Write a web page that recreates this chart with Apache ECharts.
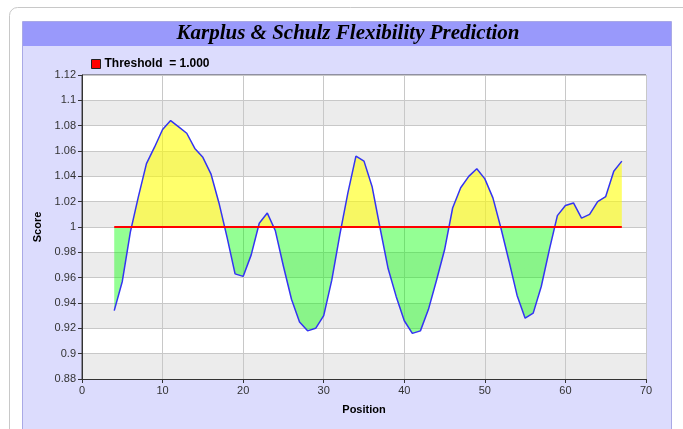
<!DOCTYPE html>
<html>
<head>
<meta charset="utf-8">
<title>Karplus & Schulz Flexibility Prediction</title>
<script src="https://cdn.jsdelivr.net/npm/echarts@6/dist/echarts.min.js"></script>
<style>
  html, body { margin: 0; padding: 0; background: #ffffff; }
  #chart { width: 683px; height: 429px; }
</style>
</head>
<body>
<div id="chart"></div>
<script>
// Residue positions and their Karplus & Schulz flexibility scores
const positions = [4, 5, 6, 7, 8, 9, 10, 11, 12, 13, 14, 15, 16, 17, 18, 19, 20, 21, 22, 23,
  24, 25, 26, 27, 28, 29, 30, 31, 32, 33, 34, 35, 36, 37, 38, 39, 40, 41, 42, 43,
  44, 45, 46, 47, 48, 49, 50, 51, 52, 53, 54, 55, 56, 57, 58, 59, 60, 61, 62, 63,
  64, 65, 66, 67];
const scores = [0.934, 0.957, 0.996, 1.024, 1.050, 1.063, 1.077, 1.084, 1.079, 1.074,
  1.062, 1.055, 1.042, 1.019, 0.992, 0.963, 0.961, 0.978, 1.003, 1.011,
  0.997, 0.969, 0.943, 0.925, 0.918, 0.920, 0.930, 0.958, 0.994, 1.027,
  1.056, 1.052, 1.032, 0.999, 0.967, 0.945, 0.926, 0.916, 0.918, 0.935,
  0.958, 0.982, 1.015, 1.031, 1.040, 1.046, 1.038, 1.023, 0.999, 0.973,
  0.946, 0.928, 0.932, 0.953, 0.982, 1.009, 1.017, 1.019, 1.007, 1.010,
  1.020, 1.024, 1.044, 1.052];
const threshold = 1.0;
const thresholdRange = [4, 67];

const titleText = 'Karplus & Schulz Flexibility Prediction';
const xName = 'Position';
const yName = 'Score';

const yMin = 0.88, yMax = 1.12;

const scoreData = positions.map((p, i) => [p, scores[i]]);
const thresholdData = thresholdRange.map(p => [p, threshold]);

const aboveColor = 'rgba(255,255,0,0.58)';
const belowColor = 'rgba(0,255,0,0.42)';

const chart = echarts.init(document.getElementById('chart'), null, { renderer: 'canvas' });

const font = 'Liberation Sans, Arial, sans-serif';

chart.setOption({
  backgroundColor: '#ffffff',
  animation: false,
  graphic: [
    { type: 'rect', z: -10, silent: true,
      shape: { x: 9.5, y: 7.5, width: 690, height: 440, r: 8 },
      style: { fill: '#ffffff', stroke: '#c8c8c8', lineWidth: 1 } },
    { type: 'rect', z: -9, silent: true,
      shape: { x: 22.5, y: 21.5, width: 649, height: 420 },
      style: { fill: '#dcdcfd', stroke: '#a9a9e6', lineWidth: 1 } },
    { type: 'rect', z: -8, silent: true,
      shape: { x: 23, y: 22, width: 648, height: 24 },
      style: { fill: '#9999fb' } },
    { type: 'text', z: 10, silent: true,
      style: {
        x: 348, y: 34, text: titleText,
        fontFamily: 'Liberation Serif, Times New Roman, serif',
        fontWeight: 'bold', fontStyle: 'italic', fontSize: 21,
        fill: '#000000', align: 'center', verticalAlign: 'middle'
      } }
  ],
  legend: {
    left: 86, top: 53,
    itemWidth: 9, itemHeight: 9, itemGap: 10,
    data: [{ name: 'Threshold', icon: 'rect',
      itemStyle: { color: '#ff0000', borderColor: '#222222', borderWidth: 1 } }],
    formatter: name => name + '  = ' + threshold.toFixed(3),
    textStyle: { fontFamily: font, fontWeight: 'bold', fontSize: 12, color: '#000000', padding: [0, 0, 0, -1] }
  },
  grid: {
    left: 82, top: 75, width: 564, height: 304,
    show: true, borderColor: '#444444', borderWidth: 1, backgroundColor: 'transparent'
  },
  xAxis: {
    type: 'value', min: 0, max: 70, interval: 10,
    name: xName, nameLocation: 'middle', nameGap: 25,
    nameTextStyle: { fontFamily: font, fontWeight: 'bold', fontSize: 11, color: '#000000' },
    axisLine: { show: true, lineStyle: { color: '#333333' } },
    axisTick: { show: true, length: 4, lineStyle: { color: '#333333' } },
    axisLabel: { margin: 6, fontFamily: font, fontSize: 11, color: '#333333' },
    splitLine: { show: true, lineStyle: { color: '#c8c8c8', width: 1 } }
  },
  yAxis: {
    type: 'value', min: yMin, max: yMax, interval: 0.02,
    name: yName, nameLocation: 'middle', nameGap: 35,
    nameTextStyle: { fontFamily: font, fontWeight: 'bold', fontSize: 11, color: '#000000' },
    axisLine: { show: true, lineStyle: { color: '#333333' } },
    axisTick: { show: true, length: 4, lineStyle: { color: '#333333' } },
    axisLabel: { margin: 6, fontFamily: font, fontSize: 11, color: '#333333',
      formatter: v => String(+v.toFixed(2)) },
    splitLine: { show: true, lineStyle: { color: '#c8c8c8', width: 1 } },
    splitArea: { show: true, areaStyle: { color: ['#ececec', '#ffffff'] } }
  },
  series: [
    {
      name: 'Score', type: 'line', data: scoreData,
      symbol: 'none', z: 3,
      lineStyle: { color: '#3434f2', width: 1.5 },
      areaStyle: { origin: threshold, color: belowColor, opacity: 1 }
    },
    {
      name: 'Threshold', type: 'line', data: thresholdData,
      symbol: 'none', z: 4, color: '#ff0000',
      lineStyle: { color: '#ff0000', width: 2 }
    }
  ]
});

// Split the fill colour at the threshold: yellow above, green below.
const yTop = chart.convertToPixel({ gridIndex: 0 }, [0, yMax])[1];
const yBottom = chart.convertToPixel({ gridIndex: 0 }, [0, yMin])[1];
const yThr = chart.convertToPixel({ gridIndex: 0 }, [0, threshold])[1];
const f = (yThr - yTop) / (yBottom - yTop);
chart.setOption({
  series: [{
    areaStyle: {
      color: new echarts.graphic.LinearGradient(0, yTop, 0, yBottom, [
        { offset: 0, color: aboveColor },
        { offset: f, color: aboveColor },
        { offset: f, color: belowColor },
        { offset: 1, color: belowColor }
      ], true)
    }
  }]
});
</script>
</body>
</html>
